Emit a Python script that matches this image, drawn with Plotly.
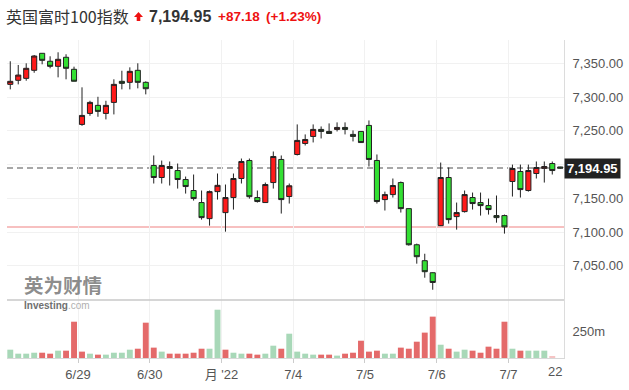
import plotly.graph_objects as go
from plotly.subplots import make_subplots

# ---------------- data ----------------
opens = [7318.8, 7324.8, 7327.7, 7339.6, 7364.8, 7353.0, 7345.5, 7358.9, 7341.1,
         7259.5, 7275.8, 7287.7, 7275.8, 7292.1, 7323.3, 7321.8, 7339.6, 7321.8,
         7198.7, 7180.9, 7197.2, 7191.2, 7177.9, 7161.6, 7143.8, 7120.0, 7160.0,
         7128.9, 7151.2, 7179.4, 7206.1, 7151.2, 7143.8, 7173.4, 7207.6, 7152.7,
         7215.0, 7231.3, 7241.7, 7252.1, 7249.1, 7252.1, 7255.0, 7244.7, 7249.1,
         7258.0, 7206.1, 7148.2, 7155.6, 7173.4, 7134.8, 7081.3, 7057.7, 7039.9,
         7109.6, 7180.9, 7123.0, 7130.4, 7151.2, 7143.8, 7139.3, 7124.5, 7124.5,
         7175.0, 7189.8, 7161.6, 7186.8, 7194.4, 7201.6, 7196.5]
highs = [7353.0, 7347.5, 7350.0, 7362.3, 7365.0, 7360.4, 7366.3, 7363.4, 7345.0,
         7314.4, 7294.5, 7300.4, 7294.5, 7326.3, 7339.0, 7344.0, 7350.0, 7323.3,
         7213.5, 7206.0, 7204.6, 7201.6, 7182.3, 7185.3, 7161.6, 7161.6, 7186.8,
         7170.5, 7186.8, 7209.0, 7209.0, 7161.6, 7173.4, 7219.4, 7213.5, 7172.0,
         7259.5, 7244.7, 7259.5, 7256.5, 7261.0, 7262.5, 7262.5, 7250.6, 7249.5,
         7265.4, 7215.0, 7160.0, 7179.4, 7175.0, 7135.0, 7083.0, 7068.0, 7040.3,
         7203.0, 7195.7, 7143.8, 7161.6, 7158.6, 7158.6, 7149.7, 7154.2, 7126.0,
         7200.0, 7200.0, 7200.0, 7204.6, 7204.6, 7204.6, 7196.8]
lows = [7311.4, 7318.8, 7324.2, 7336.0, 7348.5, 7342.6, 7329.2, 7326.3, 7323.3,
        7257.4, 7272.3, 7270.8, 7266.9, 7274.3, 7311.4, 7311.4, 7312.9, 7304.0,
        7172.0, 7172.0, 7169.0, 7164.5, 7157.1, 7146.7, 7118.5, 7109.6, 7148.2,
        7100.7, 7133.4, 7172.0, 7149.6, 7143.8, 7143.5, 7164.5, 7127.5, 7142.3,
        7213.5, 7228.3, 7232.8, 7238.7, 7245.8, 7249.1, 7244.7, 7234.3, 7232.0,
        7197.2, 7142.3, 7132.0, 7151.2, 7129.0, 7080.0, 7053.3, 7032.5, 7014.7,
        7109.0, 7112.6, 7103.7, 7129.0, 7133.4, 7124.5, 7126.0, 7114.0, 7097.8,
        7152.7, 7151.2, 7160.0, 7179.4, 7173.4, 7185.3, 7194.2]
closes = [7323.3, 7332.6, 7342.6, 7360.8, 7354.4, 7345.5, 7355.9, 7342.6, 7323.41,
          7272.8, 7292.1, 7278.8, 7287.7, 7318.8, 7320.3, 7338.1, 7321.8, 7312.32,
          7180.9, 7198.7, 7194.4, 7177.9, 7167.5, 7149.7, 7121.5, 7160.0, 7169.28,
          7151.2, 7179.4, 7204.6, 7152.5, 7145.3, 7170.5, 7212.0, 7148.2, 7168.65,
          7235.8, 7237.2, 7252.1, 7249.1, 7246.1, 7255.0, 7252.1, 7241.7, 7232.65,
          7207.6, 7145.3, 7155.6, 7169.0, 7134.8, 7081.3, 7063.6, 7041.4, 7025.47,
          7180.9, 7118.5, 7129.0, 7155.6, 7142.3, 7139.3, 7133.4, 7121.5, 7107.77,
          7194.2, 7163.0, 7191.2, 7195.7, 7197.2, 7191.2, 7194.95]

# volume in millions, one per candle (last candle has no volume bar yet)
volumes_m = [77, 40, 40, 49, 49, 40, 68, 68, 336,
             59, 40, 31, 31, 49, 49, 77, 86, 327,
             96, 59, 40, 40, 40, 49, 86, 86, 447,
             77, 49, 40, 40, 31, 40, 114, 86, 225,
             59, 40, 31, 31, 31, 22, 40, 49, 160,
             59, 68, 40, 40, 96, 86, 151, 235, 383,
             123, 86, 59, 77, 68, 49, 105, 86, 336,
             86, 68, 68, 68, 68, 12, None]
volume_dir = ["d", "d", "d", "d", "u", "u", "d", "u", "u",
              "u", "d", "u", "d", "d", "d", "d", "u", "u",
              "u", "d", "u", "u", "u", "u", "u", "d", "d",
              "u", "d", "d", "u", "u", "d", "d", "u", "d",
              "d", "d", "d", "u", "u", "d", "u", "u", "u",
              "u", "u", "d", "d", "u", "u", "u", "u", "u",
              "d", "u", "d", "d", "u", "u", "u", "u", "u",
              "d", "u", "d", "d", "d", "p", "p"]

day_boundaries = [8.5, 17.5, 26.5, 35.5, 44.5, 53.5, 62.5]
day_labels = ["6/29", "6/30", "月 '22", "7/4", "7/5", "7/6", "7/7"]

price_ticks = [7050, 7100, 7150, 7200, 7250, 7300, 7350]
price_labels = ["7,050.00", "7,100.00", "7,150.00", "", "7,250.00", "7,300.00", "7,350.00"]
vol_ticks = [250]
vol_labels = ["250m"]

last_price = 7194.95
prev_close = 7107.77
title_name = "英国富时100指数"
last_text = "7,194.95"
change_text = "+87.18"
pct_text = "(+1.23%)"

# ---------------- figure ----------------
W, H = 629, 390
ML, MR, MT, MB = 7, 65, 40, 32
PW, PH = W - ML - MR, H - MT - MB
VOL_FRAC = 58 / PH


def px(x):
    return (x - ML) / PW


def py(y):
    return (H - MB - y) / PH


x_idx = list(range(len(opens)))

fig = make_subplots(rows=2, cols=1, shared_xaxes=True, vertical_spacing=0,
                    row_heights=[1 - VOL_FRAC, VOL_FRAC])

fig.add_trace(go.Candlestick(
    x=x_idx, open=opens, high=highs, low=lows, close=closes,
    increasing=dict(fillcolor="#ff1a1a", line=dict(color="#222222", width=1)),
    decreasing=dict(fillcolor="#33e033", line=dict(color="#222222", width=1)),
    whiskerwidth=0, showlegend=False, hoverinfo="skip"), row=1, col=1)

vcolor = {"u": "#e46a6a", "d": "#a8d8b8", "p": "#f6c4c4"}
fig.add_trace(go.Bar(
    x=x_idx, y=volumes_m, width=0.74,
    marker=dict(color=[vcolor[d] for d in volume_dir], line=dict(width=0)),
    showlegend=False, hoverinfo="skip"), row=2, col=1)

font_family = "Liberation Sans, Arial, Noto Sans CJK SC, sans-serif"
xr = [-0.41, 69.47]

fig.update_layout(
    width=W, height=H,
    margin=dict(l=ML, r=MR, t=MT, b=MB),
    paper_bgcolor="white", plot_bgcolor="white",
    font=dict(family=font_family, color="#555555", size=12),
    bargap=0.2, boxgap=0.2, boxgroupgap=0.2,
    xaxis=dict(range=xr, tickvals=day_boundaries, showticklabels=False,
               showgrid=True, gridcolor="#f1f1f1", gridwidth=1, zeroline=False,
               rangeslider=dict(visible=False), showline=False),
    xaxis2=dict(range=xr, tickvals=day_boundaries, ticktext=day_labels,
                showgrid=True, gridcolor="#f1f1f1", gridwidth=1, zeroline=False,
                ticks="outside", ticklen=4, tickcolor="#cccccc",
                tickfont=dict(size=13, color="#555555"),
                showline=True, linecolor="#d8d8d8", linewidth=1,
                rangeslider=dict(visible=False)),
    yaxis=dict(side="right", range=[6999.5, 7384.5], tickvals=price_ticks,
               ticktext=price_labels, showgrid=True, gridcolor="#f1f1f1",
               zeroline=False, showline=True, linecolor="#dcdcdc", linewidth=1,
               ticks="", ticklabelstandoff=5,
               tickfont=dict(size=13, color="#555555")),
    yaxis2=dict(side="right", range=[0, 537], tickvals=vol_ticks,
                ticktext=vol_labels, showgrid=False, zeroline=False,
                showline=True, linecolor="#dcdcdc", linewidth=1,
                ticks="", ticklabelstandoff=5,
                tickfont=dict(size=13, color="#555555")),
)

shapes = [
    # previous close line
    dict(type="line", xref="paper", yref="y", x0=0, x1=1, y0=prev_close, y1=prev_close,
         line=dict(color="rgba(240,140,140,0.55)", width=2), layer="below"),
    # last price dashed line
    dict(type="line", xref="paper", yref="y", x0=0, x1=1, y0=last_price, y1=last_price,
         line=dict(color="#8a8a8a", width=1.5, dash="6px,4px"), layer="below"),
    # panel separator
    dict(type="line", xref="paper", yref="paper", x0=0, x1=1, y0=VOL_FRAC, y1=VOL_FRAC,
         line=dict(color="#c8c8c8", width=1.5)),
    # header arrow
    dict(type="path", xref="paper", yref="paper",
         path="M {},{} L {},{} L {},{} L {},{} L {},{} L {},{} L {},{} Z".format(
             px(138.5), py(12), px(143), py(17), px(140.3), py(17), px(140.3), py(21),
             px(136.7), py(21), px(136.7), py(17), px(134), py(17)),
         fillcolor="#ee1111", line=dict(width=0)),
]
fig.update_layout(shapes=shapes)

ann = [
    dict(text=title_name, x=px(4), y=py(16), xanchor="left", yanchor="middle",
         font=dict(size=16, color="#333333", family="Noto Sans CJK SC, Liberation Sans")),
    dict(text="<b>" + last_text + "</b>", x=px(147), y=py(17), xanchor="left", yanchor="middle",
         font=dict(size=16, color="#333333")),
    dict(text="<b>" + change_text + "</b>", x=px(216), y=py(17), xanchor="left", yanchor="middle",
         font=dict(size=13.5, color="#ee1111")),
    dict(text="<b>" + pct_text + "</b>", x=px(264), y=py(17), xanchor="left", yanchor="middle",
         font=dict(size=13.5, color="#ee1111")),
    # last price label box
    dict(text="<b>" + last_text + "</b>", xref="paper", yref="y", x=1.0, y=last_price,
         xanchor="left", yanchor="middle", bgcolor="#222222", borderpad=2,
         font=dict(size=13, color="white")),
    # truncated axis label at right edge
    dict(text="22", x=px(564), y=py(371), xanchor="right", yanchor="middle",
         font=dict(size=13, color="#555555")),
    # watermark
    dict(text="<b>英为财情</b>", x=px(22), y=py(284), xanchor="left", yanchor="middle",
         font=dict(size=19.5, color="rgba(120,120,120,0.85)", family="Noto Sans CJK SC")),
    dict(text="<b>Investing</b><span style='color:#b0b0b0'>.com</span>", x=px(22), y=py(305.5),
         xanchor="left", yanchor="middle",
         font=dict(size=10, color="#707070")),
]
for a in ann:
    a.setdefault("xref", "paper")
    a.setdefault("yref", "paper")
    a["showarrow"] = False
fig.update_layout(annotations=ann)

fig.write_html("out.html", config={"displayModeBar": False},
               post_script="document.body.style.margin='0';document.body.style.padding='0';")
